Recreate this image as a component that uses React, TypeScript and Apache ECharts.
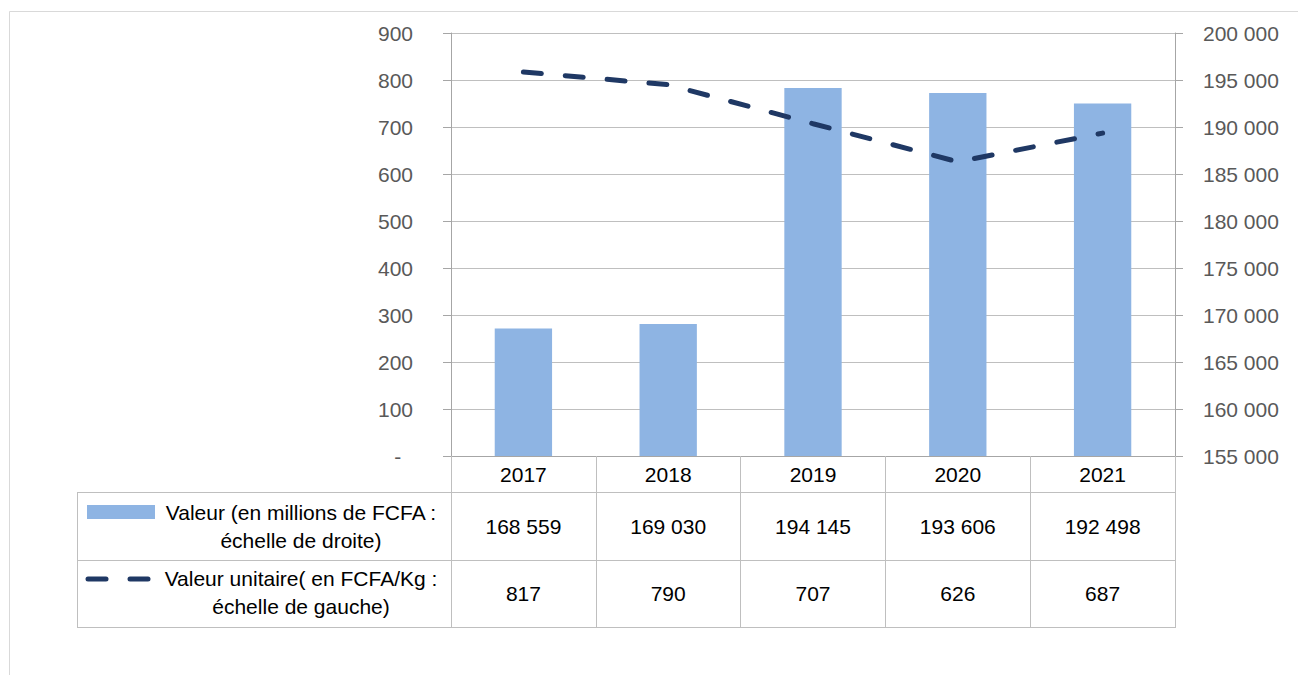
import React, { useEffect, useRef } from "react";
import * as echarts from "echarts";

const years = ["2017", "2018", "2019", "2020", "2021"];
const valeurMillions = [168559, 169030, 194145, 193606, 192498];
const valeurUnitaire = [817, 790, 707, 626, 687];
const seriesBarName = "Valeur (en millions de FCFA :\néchelle de droite)";
const seriesLineName = "Valeur unitaire( en FCFA/Kg :\néchelle de gauche)";

const fmt = (v: number) => String(v).replace(/\B(?=(\d{3})+(?!\d))/g, " ");

const FONT = "'Liberation Sans', Arial, sans-serif";
const GRID = "#bfbfbf";
const AXIS = "#a6a6a6";
const BAR = "#8eb4e3";
const LINE = "#1f3864";

export default function App() {
  const ref = useRef<HTMLDivElement>(null);
  useEffect(() => {
    if (!ref.current) return;
    const chart = echarts.init(ref.current, undefined, { renderer: "svg" });
    const tableAxis = (data: string[], margin: number) => ({
      type: "category",
      data,
      position: "bottom",
      gridIndex: 0,
      boundaryGap: true,
      axisLine: { show: false },
      axisTick: { show: false },
      splitLine: { show: false },
      axisLabel: {
        interval: 0,
        margin,
        verticalAlign: "middle",
        color: "#000",
        fontSize: 21,
        fontFamily: FONT,
      },
    });
    chart.setOption({
      animation: false,
      backgroundColor: "#fff",
      grid: { left: 451, right: 123, top: 33, bottom: 219, containLabel: false },
      xAxis: [
        {
          type: "category",
          data: years,
          boundaryGap: true,
          axisLine: { show: true, lineStyle: { color: AXIS, width: 1 } },
          axisTick: {
            show: true,
            interval: 0,
            length: 172,
            lineStyle: { color: GRID, width: 1 },
          },
          axisLabel: {
            interval: 0,
            margin: 18,
            verticalAlign: "middle",
            color: "#000",
            fontSize: 21,
            fontFamily: FONT,
          },
        },
        tableAxis(valeurMillions.map(fmt), 70),
        tableAxis(valeurUnitaire.map(String), 137),
      ],
      yAxis: [
        {
          type: "value",
          min: 0,
          max: 900,
          interval: 100,
          position: "left",
          axisLine: { show: true, lineStyle: { color: AXIS } },
          axisTick: { show: true, length: 8, lineStyle: { color: AXIS } },
          splitLine: { show: true, lineStyle: { color: GRID, width: 1 } },
          axisLabel: {
            margin: 38,
            color: "#595959",
            fontSize: 21,
            fontFamily: FONT,
            formatter: (v: number) => (v === 0 ? "-\u00a0\u00a0" : fmt(v)),
          },
        },
        {
          type: "value",
          min: 155000,
          max: 200000,
          interval: 5000,
          position: "right",
          axisLine: { show: true, lineStyle: { color: AXIS } },
          axisTick: { show: true, length: 8, lineStyle: { color: AXIS } },
          splitLine: { show: false },
          axisLabel: {
            margin: 28,
            color: "#595959",
            fontSize: 21,
            fontFamily: FONT,
            formatter: (v: number) => fmt(v),
          },
        },
      ],
      series: [
        {
          name: seriesBarName,
          type: "bar",
          xAxisIndex: 0,
          yAxisIndex: 1,
          data: valeurMillions,
          barWidth: "39.6%",
          itemStyle: { color: BAR },
          z: 2,
        },
        {
          name: seriesLineName,
          type: "line",
          xAxisIndex: 0,
          yAxisIndex: 0,
          data: valeurUnitaire,
          showSymbol: false,
          symbol: "none",
          lineStyle: { color: LINE, width: 5, type: [18, 24], cap: "round" },
          z: 3,
        },
      ],
      graphic: [
        {
          type: "rect",
          silent: true,
          shape: { x: 9.5, y: 11.5, width: 1400, height: 800 },
          style: { fill: "none", stroke: "#d9d9d9", lineWidth: 1 },
        },
        {
          type: "line",
          silent: true,
          shape: { x1: 77, y1: 492.5, x2: 1175, y2: 492.5 },
          style: { stroke: GRID, lineWidth: 1 },
        },
        {
          type: "line",
          silent: true,
          shape: { x1: 77, y1: 560.5, x2: 1175, y2: 560.5 },
          style: { stroke: GRID, lineWidth: 1 },
        },
        {
          type: "line",
          silent: true,
          shape: { x1: 77, y1: 627.5, x2: 1175, y2: 627.5 },
          style: { stroke: GRID, lineWidth: 1 },
        },
        {
          type: "line",
          silent: true,
          shape: { x1: 77.5, y1: 492, x2: 77.5, y2: 628 },
          style: { stroke: GRID, lineWidth: 1 },
        },
        {
          type: "rect",
          silent: true,
          shape: { x: 87, y: 505, width: 68, height: 14 },
          style: { fill: BAR },
        },
        {
          type: "line",
          silent: true,
          shape: { x1: 88, y1: 579, x2: 106, y2: 579 },
          style: { stroke: LINE, lineWidth: 5, lineCap: "round" },
        },
        {
          type: "line",
          silent: true,
          shape: { x1: 130, y1: 579, x2: 148, y2: 579 },
          style: { stroke: LINE, lineWidth: 5, lineCap: "round" },
        },
        {
          type: "text",
          silent: true,
          style: {
            text: seriesBarName,
            x: 301,
            y: 526,
            align: "center",
            verticalAlign: "middle",
            fontSize: 21,
            fontFamily: FONT,
            lineHeight: 28,
            fill: "#000",
          },
        },
        {
          type: "text",
          silent: true,
          style: {
            text: seriesLineName,
            x: 301,
            y: 592,
            align: "center",
            verticalAlign: "middle",
            fontSize: 21,
            fontFamily: FONT,
            lineHeight: 28,
            fill: "#000",
          },
        },
      ],
    });
    return () => chart.dispose();
  }, []);
  return (
    <div
      ref={ref}
      style={{ position: "absolute", left: 0, top: 0, width: 1298, height: 675 }}
    />
  );
}
